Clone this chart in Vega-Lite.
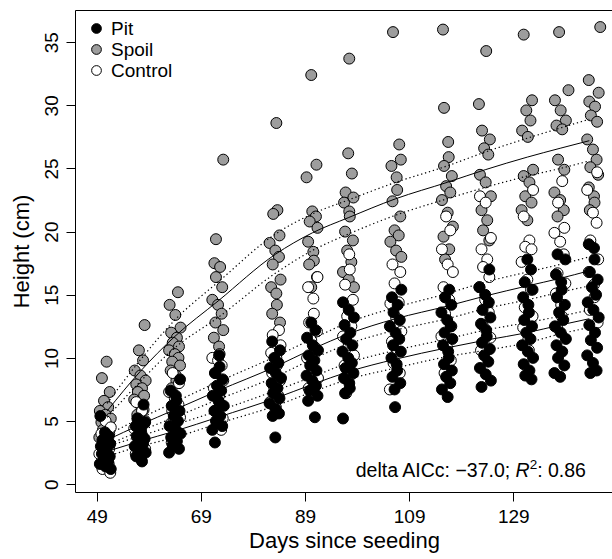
{
"$schema":"https://vega.github.io/schema/vega-lite/v6.json",
"width":538,"height":482,
"autosize":{"type":"none"},
"padding":{"left":75,"top":10,"right":0,"bottom":67},
"config":{
"view":{"stroke":"black","strokeWidth":1},
"font":"Liberation Sans",
"axis":{"grid":false,"domain":false,"tickColor":"black","tickSize":9,"tickWidth":1,"labelColor":"black","titleColor":"black","labelFont":"Liberation Sans","titleFont":"Liberation Sans","labelFontSize":19,"titleFontSize":22,"titleFontWeight":"normal"},
"legend":{"labelFont":"Liberation Sans","labelFontSize":19,"labelColor":"black","symbolStrokeColor":"black","symbolStrokeWidth":1,"symbolSize":95,"symbolType":"circle","rowPadding":1,"labelOffset":5,"padding":0}
},
"datasets":{
"spoil":[
{"day":50.9,"height":9.7},{"day":50.0,"height":8.4},{"day":51.5,"height":7.3},{"day":50.4,"height":6.6},{"day":51.2,"height":6.1},{"day":49.6,"height":5.8},{"day":50.7,"height":5.5},{"day":51.7,"height":5.2},{"day":49.9,"height":4.9},{"day":51.0,"height":4.6},{"day":50.2,"height":4.3},{"day":51.4,"height":4.0},{"day":49.5,"height":3.7},
{"day":58.2,"height":12.6},{"day":57.1,"height":10.6},{"day":57.9,"height":9.8},{"day":56.3,"height":9.0},{"day":57.4,"height":8.6},{"day":58.4,"height":8.2},{"day":56.6,"height":7.9},{"day":57.7,"height":7.6},{"day":56.9,"height":7.3},{"day":58.1,"height":7.0},{"day":56.2,"height":6.7},{"day":57.3,"height":6.3},{"day":58.0,"height":5.9},{"day":56.8,"height":5.5},{"day":58.3,"height":5.0},
{"day":64.6,"height":15.2},{"day":63.0,"height":14.2},{"day":64.1,"height":13.4},{"day":65.1,"height":12.4},{"day":63.3,"height":12.0},{"day":64.4,"height":11.6},{"day":63.6,"height":11.2},{"day":64.8,"height":10.9},{"day":62.9,"height":10.6},{"day":64.0,"height":10.3},{"day":64.7,"height":10.0},{"day":63.5,"height":9.7},{"day":65.0,"height":9.4},{"day":63.2,"height":9.0},{"day":64.2,"height":8.6},{"day":64.3,"height":8.2},{"day":63.4,"height":7.6},
{"day":73.3,"height":25.7},{"day":71.9,"height":19.4},{"day":71.6,"height":17.5},{"day":72.7,"height":17.2},{"day":71.9,"height":16.4},{"day":73.1,"height":15.6},{"day":71.2,"height":14.6},{"day":72.3,"height":14.2},{"day":73.0,"height":13.5},{"day":71.8,"height":12.8},{"day":73.3,"height":12.2},{"day":71.5,"height":11.6},{"day":72.5,"height":10.9},{"day":72.6,"height":10.3},
{"day":83.5,"height":28.6},{"day":83.7,"height":21.7},{"day":82.9,"height":21.4},{"day":84.1,"height":19.7},{"day":82.2,"height":19.1},{"day":83.3,"height":18.5},{"day":84.0,"height":18.0},{"day":82.8,"height":17.4},{"day":84.3,"height":16.2},{"day":82.5,"height":15.6},{"day":83.5,"height":15.1},{"day":83.6,"height":14.2},{"day":82.7,"height":13.5},{"day":84.2,"height":12.8},
{"day":90.2,"height":32.4},{"day":91.2,"height":25.3},{"day":89.3,"height":24.3},{"day":90.4,"height":21.6},{"day":91.1,"height":21.2},{"day":89.9,"height":20.8},{"day":91.4,"height":20.3},{"day":89.6,"height":19.2},{"day":90.6,"height":18.4},{"day":90.7,"height":17.7},{"day":89.8,"height":17.4},{"day":91.3,"height":16.4},{"day":90.2,"height":15.6},
{"day":97.5,"height":33.7},{"day":97.3,"height":26.2},{"day":98.0,"height":24.6},{"day":96.8,"height":23.1},{"day":98.3,"height":22.7},{"day":96.5,"height":22.3},{"day":97.5,"height":21.6},{"day":97.6,"height":21.2},{"day":96.7,"height":20.0},{"day":98.2,"height":19.3},{"day":97.1,"height":18.5},{"day":97.9,"height":17.6},{"day":96.3,"height":16.8},{"day":97.4,"height":16.2},{"day":98.4,"height":15.6},
{"day":105.9,"height":35.8},{"day":107.1,"height":26.9},{"day":107.4,"height":25.7},{"day":105.6,"height":25.2},{"day":106.6,"height":24.3},{"day":106.7,"height":23.3},{"day":105.8,"height":22.4},{"day":107.3,"height":21.2},{"day":106.2,"height":20.1},{"day":107.0,"height":19.7},{"day":105.4,"height":19.2},{"day":106.5,"height":18.5},{"day":107.5,"height":18.0},
{"day":115.5,"height":36.0},{"day":115.7,"height":29.8},{"day":116.5,"height":27.1},{"day":116.6,"height":25.9},{"day":115.7,"height":25.2},{"day":117.2,"height":24.4},{"day":116.1,"height":23.6},{"day":116.9,"height":23.1},{"day":115.3,"height":22.5},{"day":116.4,"height":21.5},{"day":117.4,"height":20.4},{"day":115.6,"height":19.6},{"day":116.7,"height":18.6},{"day":115.9,"height":17.8},
{"day":123.8,"height":34.3},{"day":122.4,"height":30.1},{"day":123.0,"height":28.0},{"day":124.5,"height":27.3},{"day":123.4,"height":26.6},{"day":124.2,"height":26.1},{"day":122.6,"height":24.5},{"day":123.7,"height":23.9},{"day":124.7,"height":22.8},{"day":122.9,"height":21.7},{"day":124.0,"height":20.9},{"day":123.2,"height":20.1},{"day":124.4,"height":19.3},
{"day":131.0,"height":35.6},{"day":132.6,"height":30.4},{"day":131.5,"height":29.6},{"day":132.3,"height":28.8},{"day":130.7,"height":28.0},{"day":131.8,"height":27.5},{"day":132.8,"height":24.9},{"day":131.0,"height":24.4},{"day":132.1,"height":23.9},{"day":131.3,"height":22.8},{"day":132.5,"height":22.3},{"day":130.6,"height":21.7},{"day":131.7,"height":20.9},
{"day":137.8,"height":35.8},{"day":139.6,"height":31.2},{"day":137.0,"height":30.4},{"day":138.1,"height":29.6},{"day":139.1,"height":28.8},{"day":137.3,"height":28.4},{"day":138.4,"height":28.1},{"day":137.6,"height":25.7},{"day":138.8,"height":24.9},{"day":136.9,"height":23.1},{"day":138.0,"height":22.5},{"day":138.7,"height":21.7},{"day":137.5,"height":21.2},
{"day":145.7,"height":36.2},{"day":143.5,"height":32.0},{"day":145.4,"height":31.0},{"day":143.6,"height":30.3},{"day":144.7,"height":29.9},{"day":143.9,"height":29.2},{"day":145.1,"height":28.7},{"day":143.2,"height":27.3},{"day":144.3,"height":26.5},{"day":145.0,"height":25.7},{"day":143.8,"height":25.1},{"day":145.3,"height":24.5},{"day":143.5,"height":23.5},{"day":144.5,"height":22.8},{"day":144.6,"height":22.3},{"day":143.7,"height":21.7}
],
"control":[
{"day":50.7,"height":5.0},{"day":51.7,"height":4.5},{"day":49.9,"height":4.0},{"day":51.0,"height":3.6},{"day":50.2,"height":3.2},{"day":51.4,"height":2.8},{"day":49.5,"height":2.4},{"day":50.6,"height":2.0},{"day":51.3,"height":1.6},{"day":50.1,"height":1.2},{"day":51.6,"height":0.9},
{"day":56.6,"height":6.5},{"day":57.7,"height":5.8},{"day":56.9,"height":5.2},{"day":58.1,"height":4.8},{"day":56.2,"height":4.4},{"day":57.3,"height":4.0},{"day":58.0,"height":3.6},{"day":56.8,"height":3.2},{"day":58.3,"height":2.8},{"day":56.5,"height":2.4},{"day":57.5,"height":2.0},
{"day":63.6,"height":8.8},{"day":64.8,"height":8.0},{"day":62.9,"height":7.3},{"day":64.0,"height":6.8},{"day":64.7,"height":6.3},{"day":63.5,"height":5.8},{"day":65.0,"height":5.3},{"day":63.2,"height":4.8},{"day":64.2,"height":4.3},{"day":64.3,"height":3.8},{"day":63.4,"height":3.3},
{"day":71.2,"height":10.0},{"day":72.3,"height":9.8},{"day":73.0,"height":9.4},{"day":71.8,"height":8.8},{"day":73.3,"height":8.2},{"day":71.5,"height":7.6},{"day":72.5,"height":7.0},{"day":72.6,"height":6.4},{"day":71.7,"height":5.8},{"day":73.2,"height":5.2},{"day":72.1,"height":4.9},{"day":72.9,"height":4.3},
{"day":84.0,"height":12.2},{"day":82.8,"height":11.8},{"day":84.3,"height":11.0},{"day":82.5,"height":10.4},{"day":83.5,"height":10.0},{"day":83.6,"height":9.4},{"day":82.7,"height":8.8},{"day":84.2,"height":8.2},{"day":83.1,"height":7.6},{"day":83.9,"height":7.0},{"day":82.3,"height":6.5},{"day":83.4,"height":6.1},
{"day":91.4,"height":16.4},{"day":89.6,"height":15.6},{"day":90.6,"height":14.7},{"day":90.7,"height":13.5},{"day":89.8,"height":12.8},{"day":91.3,"height":12.1},{"day":90.2,"height":11.4},{"day":91.0,"height":10.8},{"day":89.4,"height":10.0},{"day":90.5,"height":9.2},{"day":91.5,"height":8.4},{"day":89.7,"height":7.6},
{"day":97.5,"height":18.2},{"day":97.6,"height":17.0},{"day":96.7,"height":15.8},{"day":98.2,"height":14.6},{"day":97.1,"height":13.3},{"day":97.9,"height":12.5},{"day":96.3,"height":11.7},{"day":97.4,"height":11.0},{"day":98.4,"height":10.2},{"day":96.6,"height":9.4},{"day":97.7,"height":8.6},{"day":96.9,"height":7.2},
{"day":105.8,"height":17.4},{"day":107.3,"height":16.8},{"day":106.2,"height":15.9},{"day":107.0,"height":14.4},{"day":105.4,"height":14.3},{"day":106.5,"height":13.2},{"day":107.5,"height":12.1},{"day":105.7,"height":11.3},{"day":106.8,"height":10.5},{"day":106.0,"height":9.6},{"day":107.2,"height":8.8},{"day":105.3,"height":7.5},
{"day":116.1,"height":21.2},{"day":116.9,"height":20.1},{"day":115.3,"height":18.6},{"day":116.4,"height":17.4},{"day":117.4,"height":16.8},{"day":115.6,"height":15.6},{"day":116.7,"height":14.6},{"day":115.9,"height":13.5},{"day":117.1,"height":12.5},{"day":115.2,"height":11.7},{"day":116.3,"height":10.8},{"day":117.0,"height":9.8},{"day":115.8,"height":8.8},
{"day":122.6,"height":22.8},{"day":123.7,"height":22.3},{"day":124.7,"height":19.5},{"day":122.9,"height":18.6},{"day":124.0,"height":17.8},{"day":123.2,"height":17.2},{"day":124.4,"height":16.4},{"day":122.5,"height":15.6},{"day":123.6,"height":14.6},{"day":124.3,"height":13.6},{"day":123.1,"height":12.6},{"day":124.6,"height":11.6},{"day":122.8,"height":10.6},
{"day":132.8,"height":23.3},{"day":131.0,"height":21.2},{"day":132.1,"height":19.3},{"day":131.3,"height":18.8},{"day":132.5,"height":18.6},{"day":130.6,"height":17.6},{"day":131.7,"height":16.2},{"day":132.4,"height":15.4},{"day":131.2,"height":14.0},{"day":132.7,"height":13.3},{"day":130.9,"height":12.4},{"day":131.9,"height":11.5},{"day":132.0,"height":10.6},
{"day":138.4,"height":24.0},{"day":137.6,"height":22.3},{"day":138.8,"height":20.3},{"day":136.9,"height":19.9},{"day":138.0,"height":19.2},{"day":138.7,"height":18.2},{"day":137.5,"height":16.7},{"day":139.0,"height":15.9},{"day":137.2,"height":15.1},{"day":138.2,"height":14.2},{"day":138.3,"height":13.3},{"day":137.4,"height":12.4},
{"day":145.1,"height":24.7},{"day":143.2,"height":23.3},{"day":144.3,"height":21.5},{"day":145.0,"height":20.7},{"day":143.8,"height":19.3},{"day":145.3,"height":17.8},{"day":143.5,"height":16.8},{"day":144.5,"height":15.8},{"day":144.6,"height":14.8},{"day":143.7,"height":13.8},{"day":145.2,"height":12.8}
],
"pit":[
{"day":49.7,"height":5.4},{"day":50.6,"height":4.1},{"day":51.3,"height":3.8},{"day":50.1,"height":3.5},{"day":51.6,"height":3.2},{"day":49.8,"height":3.0},{"day":50.8,"height":2.8},{"day":50.9,"height":2.6},{"day":50.0,"height":2.4},{"day":51.5,"height":2.2},{"day":50.4,"height":2.0},{"day":51.2,"height":1.8},{"day":49.6,"height":1.6},{"day":50.7,"height":1.4},{"day":51.7,"height":1.2},
{"day":58.0,"height":6.3},{"day":56.8,"height":5.2},{"day":58.3,"height":4.9},{"day":56.5,"height":4.6},{"day":57.5,"height":4.3},{"day":57.6,"height":4.0},{"day":56.7,"height":3.8},{"day":58.2,"height":3.6},{"day":57.1,"height":3.4},{"day":57.9,"height":3.2},{"day":56.3,"height":3.0},{"day":57.4,"height":2.8},{"day":58.4,"height":2.5},{"day":56.6,"height":2.2},{"day":57.7,"height":1.8},
{"day":65.0,"height":8.3},{"day":63.2,"height":7.4},{"day":64.2,"height":7.0},{"day":64.3,"height":6.6},{"day":63.4,"height":6.2},{"day":64.9,"height":5.8},{"day":63.8,"height":5.4},{"day":64.6,"height":5.0},{"day":63.0,"height":4.6},{"day":64.1,"height":4.3},{"day":65.1,"height":4.0},{"day":63.3,"height":3.7},{"day":64.4,"height":3.4},{"day":63.6,"height":3.1},{"day":64.8,"height":2.8},{"day":62.9,"height":2.5},
{"day":72.5,"height":10.2},{"day":72.6,"height":9.3},{"day":71.7,"height":8.8},{"day":73.2,"height":8.3},{"day":72.1,"height":7.8},{"day":72.9,"height":7.4},{"day":71.3,"height":7.0},{"day":72.4,"height":6.6},{"day":73.4,"height":6.2},{"day":71.6,"height":5.8},{"day":72.7,"height":5.4},{"day":71.9,"height":5.0},{"day":73.1,"height":4.6},{"day":71.2,"height":4.3},{"day":71.7,"height":3.3},
{"day":82.7,"height":11.3},{"day":84.2,"height":10.6},{"day":83.1,"height":10.0},{"day":83.9,"height":9.6},{"day":82.3,"height":9.2},{"day":83.4,"height":8.8},{"day":84.4,"height":8.4},{"day":82.6,"height":8.0},{"day":83.7,"height":7.6},{"day":82.9,"height":7.2},{"day":84.1,"height":6.8},{"day":82.2,"height":6.4},{"day":83.3,"height":6.0},{"day":84.0,"height":5.6},{"day":82.8,"height":5.4},{"day":83.3,"height":3.7},
{"day":90.2,"height":12.8},{"day":91.0,"height":12.2},{"day":89.4,"height":11.6},{"day":90.5,"height":11.0},{"day":91.5,"height":10.6},{"day":89.7,"height":10.2},{"day":90.8,"height":9.8},{"day":90.0,"height":9.4},{"day":91.2,"height":9.0},{"day":89.3,"height":8.6},{"day":90.4,"height":8.2},{"day":91.1,"height":7.8},{"day":89.9,"height":7.4},{"day":91.4,"height":7.0},{"day":89.6,"height":6.6},{"day":90.9,"height":5.3},
{"day":96.3,"height":14.4},{"day":97.4,"height":13.8},{"day":98.4,"height":13.2},{"day":96.6,"height":12.6},{"day":97.7,"height":12.0},{"day":96.9,"height":11.5},{"day":98.1,"height":11.0},{"day":96.2,"height":10.5},{"day":97.3,"height":10.0},{"day":98.0,"height":9.6},{"day":96.8,"height":9.2},{"day":98.3,"height":8.8},{"day":96.5,"height":8.4},{"day":97.5,"height":8.0},{"day":97.6,"height":7.6},{"day":96.7,"height":7.2},{"day":96.3,"height":5.2},
{"day":107.5,"height":15.4},{"day":105.7,"height":14.8},{"day":106.8,"height":14.2},{"day":106.0,"height":13.6},{"day":107.2,"height":13.0},{"day":105.3,"height":12.5},{"day":106.4,"height":12.0},{"day":107.1,"height":11.5},{"day":105.9,"height":11.0},{"day":107.4,"height":10.5},{"day":105.6,"height":10.0},{"day":106.6,"height":9.5},{"day":106.7,"height":9.0},{"day":105.8,"height":8.5},{"day":107.3,"height":8.0},{"day":106.2,"height":7.5},{"day":106.3,"height":6.1},
{"day":116.7,"height":15.4},{"day":115.9,"height":14.8},{"day":117.1,"height":14.2},{"day":115.2,"height":13.6},{"day":116.3,"height":13.0},{"day":117.0,"height":12.5},{"day":115.8,"height":12.0},{"day":117.3,"height":11.5},{"day":115.5,"height":11.0},{"day":116.5,"height":10.5},{"day":116.6,"height":10.0},{"day":115.7,"height":9.5},{"day":117.2,"height":9.0},{"day":116.1,"height":8.5},{"day":116.9,"height":8.0},{"day":115.3,"height":7.5},{"day":116.4,"height":6.9},
{"day":124.4,"height":17.0},{"day":122.5,"height":15.6},{"day":123.6,"height":15.0},{"day":124.3,"height":14.4},{"day":123.1,"height":13.8},{"day":124.6,"height":13.2},{"day":122.8,"height":12.7},{"day":123.8,"height":12.2},{"day":123.9,"height":11.7},{"day":123.0,"height":11.2},{"day":124.5,"height":10.7},{"day":123.4,"height":10.2},{"day":124.2,"height":9.7},{"day":122.6,"height":9.2},{"day":123.7,"height":8.7},{"day":124.7,"height":8.2},{"day":122.9,"height":7.7},
{"day":131.7,"height":17.8},{"day":132.4,"height":17.0},{"day":131.2,"height":16.0},{"day":132.7,"height":15.4},{"day":130.9,"height":14.8},{"day":131.9,"height":14.2},{"day":132.0,"height":13.6},{"day":131.1,"height":13.0},{"day":132.6,"height":12.5},{"day":131.5,"height":12.0},{"day":132.3,"height":11.5},{"day":130.7,"height":11.0},{"day":131.8,"height":10.5},{"day":132.8,"height":10.0},{"day":131.0,"height":9.5},{"day":132.1,"height":9.0},{"day":131.3,"height":8.6},{"day":132.5,"height":8.3},
{"day":137.5,"height":18.2},{"day":139.0,"height":17.8},{"day":137.2,"height":16.6},{"day":138.2,"height":16.0},{"day":138.3,"height":15.4},{"day":137.4,"height":14.8},{"day":138.9,"height":14.2},{"day":137.8,"height":13.6},{"day":138.6,"height":13.0},{"day":137.0,"height":12.5},{"day":138.1,"height":12.0},{"day":139.1,"height":11.5},{"day":137.3,"height":11.0},{"day":138.4,"height":10.5},{"day":137.6,"height":10.0},{"day":138.8,"height":9.4},{"day":136.9,"height":8.8},{"day":138.0,"height":8.5},
{"day":143.5,"height":19.0},{"day":144.5,"height":18.7},{"day":144.6,"height":17.8},{"day":143.7,"height":16.8},{"day":145.2,"height":16.2},{"day":144.1,"height":15.6},{"day":144.9,"height":15.0},{"day":143.3,"height":14.4},{"day":144.4,"height":13.8},{"day":145.4,"height":13.2},{"day":143.6,"height":12.6},{"day":144.7,"height":12.0},{"day":143.9,"height":11.4},{"day":145.1,"height":10.8},{"day":143.2,"height":10.2},{"day":144.3,"height":9.6},{"day":145.0,"height":9.0},{"day":143.8,"height":8.8}
],
"fits":[
{"group":"Spoil","day":51.0,"fit":5.8,"lower":5.3,"upper":6.4},
{"group":"Spoil","day":57.3,"fit":8.9,"lower":8.1,"upper":9.8},
{"group":"Spoil","day":64.0,"fit":11.7,"lower":10.8,"upper":13.0},
{"group":"Spoil","day":72.3,"fit":14.5,"lower":13.2,"upper":16.0},
{"group":"Spoil","day":83.3,"fit":18.2,"lower":16.7,"upper":19.8},
{"group":"Spoil","day":90.4,"fit":19.9,"lower":18.5,"upper":21.4},
{"group":"Spoil","day":97.3,"fit":21.1,"lower":19.8,"upper":22.5},
{"group":"Spoil","day":106.4,"fit":22.6,"lower":21.3,"upper":23.9},
{"group":"Spoil","day":116.3,"fit":23.9,"lower":22.6,"upper":25.2},
{"group":"Spoil","day":123.6,"fit":24.9,"lower":23.5,"upper":26.3},
{"group":"Spoil","day":131.7,"fit":25.9,"lower":24.4,"upper":27.4},
{"group":"Spoil","day":138.0,"fit":26.6,"lower":25.0,"upper":28.2},
{"group":"Spoil","day":143.6,"fit":27.2,"lower":25.6,"upper":28.9},
{"group":"Control","day":51.0,"fit":3.5,"lower":3.1,"upper":3.9},
{"group":"Control","day":57.3,"fit":4.7,"lower":4.2,"upper":5.2},
{"group":"Control","day":64.0,"fit":5.9,"lower":5.3,"upper":6.5},
{"group":"Control","day":72.3,"fit":7.4,"lower":6.7,"upper":8.1},
{"group":"Control","day":83.3,"fit":9.3,"lower":8.5,"upper":10.1},
{"group":"Control","day":90.4,"fit":10.7,"lower":9.9,"upper":11.5},
{"group":"Control","day":97.3,"fit":11.9,"lower":11.1,"upper":12.8},
{"group":"Control","day":106.4,"fit":13.1,"lower":12.2,"upper":14.0},
{"group":"Control","day":116.3,"fit":14.1,"lower":13.1,"upper":15.1},
{"group":"Control","day":123.6,"fit":14.9,"lower":13.9,"upper":16.0},
{"group":"Control","day":131.7,"fit":15.7,"lower":14.6,"upper":16.8},
{"group":"Control","day":138.0,"fit":16.3,"lower":15.2,"upper":17.4},
{"group":"Control","day":143.6,"fit":16.9,"lower":15.7,"upper":18.0},
{"group":"Pit","day":51.0,"fit":2.6,"lower":2.2,"upper":3.0},
{"group":"Pit","day":57.3,"fit":3.4,"lower":3.0,"upper":3.8},
{"group":"Pit","day":64.0,"fit":4.2,"lower":3.7,"upper":4.7},
{"group":"Pit","day":72.3,"fit":5.3,"lower":4.8,"upper":5.8},
{"group":"Pit","day":83.3,"fit":6.8,"lower":6.2,"upper":7.4},
{"group":"Pit","day":90.4,"fit":7.9,"lower":7.3,"upper":8.5},
{"group":"Pit","day":97.3,"fit":8.9,"lower":8.3,"upper":9.6},
{"group":"Pit","day":106.4,"fit":9.9,"lower":9.2,"upper":10.6},
{"group":"Pit","day":116.3,"fit":10.8,"lower":10.1,"upper":11.5},
{"group":"Pit","day":123.6,"fit":11.4,"lower":10.6,"upper":12.2},
{"group":"Pit","day":131.7,"fit":12.0,"lower":11.2,"upper":12.8},
{"group":"Pit","day":138.0,"fit":12.6,"lower":11.9,"upper":13.3},
{"group":"Pit","day":143.6,"fit":13.1,"lower":12.4,"upper":13.8}
]
},
"layer":[
{"data":{"name":"spoil"},
 "mark":{"type":"point","shape":"circle","filled":true,"stroke":"black","strokeWidth":1,"size":120,"opacity":1},
 "encoding":{
  "x":{"field":"day","type":"quantitative","scale":{"domain":[44.83,148.15],"nice":false,"zero":false},"axis":{"values":[49,69,89,109,129],"title":"Days since seeding","labelPadding":6,"titlePadding":4}},
  "y":{"field":"height","type":"quantitative","scale":{"domain":[-0.62,37.55],"nice":false,"zero":false},"axis":{"values":[0,5,10,15,20,25,30,35],"title":"Height (cm)","labelAngle":-90,"labelAlign":"center","labelBaseline":"bottom","labelPadding":5,"titlePadding":9}},
  "fill":{"datum":"Spoil","type":"nominal","scale":{"domain":["Pit","Spoil","Control"],"range":["#000000","#9d9d9d","#ffffff"]},"legend":{"title":null,"orient":"none","legendX":12,"legendY":9}}
 }},
{"data":{"name":"control"},
 "mark":{"type":"point","shape":"circle","filled":true,"stroke":"black","strokeWidth":1,"size":120,"opacity":1},
 "encoding":{
  "x":{"field":"day","type":"quantitative"},
  "y":{"field":"height","type":"quantitative"},
  "fill":{"datum":"Control","type":"nominal"}
 }},
{"data":{"name":"pit"},
 "mark":{"type":"point","shape":"circle","filled":true,"stroke":"black","strokeWidth":1,"size":120,"opacity":1},
 "encoding":{
  "x":{"field":"day","type":"quantitative"},
  "y":{"field":"height","type":"quantitative"},
  "fill":{"datum":"Pit","type":"nominal"}
 }},
{"data":{"name":"fits"},
 "mark":{"type":"line","color":"black","strokeWidth":1,"interpolate":"monotone"},
 "encoding":{"x":{"field":"day","type":"quantitative"},"y":{"field":"fit","type":"quantitative"},"detail":{"field":"group"}}},
{"data":{"name":"fits"},
 "mark":{"type":"line","color":"black","strokeWidth":1.2,"strokeDash":[1.3,2.8],"interpolate":"monotone"},
 "encoding":{"x":{"field":"day","type":"quantitative"},"y":{"field":"lower","type":"quantitative"},"detail":{"field":"group"}}},
{"data":{"name":"fits"},
 "mark":{"type":"line","color":"black","strokeWidth":1.2,"strokeDash":[1.3,2.8],"interpolate":"monotone"},
 "encoding":{"x":{"field":"day","type":"quantitative"},"y":{"field":"upper","type":"quantitative"},"detail":{"field":"group"}}},
{"data":{"values":[{}]},
 "mark":{"type":"text","text":"delta AICc: −37.0;","align":"right","baseline":"alphabetic","dx":-75.8,"fontSize":19.5,"font":"Liberation Sans","color":"black"},
 "encoding":{"x":{"datum":142.96,"type":"quantitative"},"y":{"datum":0.59,"type":"quantitative"}}},
{"data":{"values":[{}]},
 "mark":{"type":"text","text":"R","align":"right","baseline":"alphabetic","dx":-56.3,"fontSize":19.5,"fontStyle":"italic","font":"Liberation Sans","color":"black"},
 "encoding":{"x":{"datum":142.96,"type":"quantitative"},"y":{"datum":0.59,"type":"quantitative"}}},
{"data":{"values":[{}]},
 "mark":{"type":"text","text":"2","align":"right","baseline":"alphabetic","dx":-48.8,"dy":-8,"fontSize":13.5,"font":"Liberation Sans","color":"black"},
 "encoding":{"x":{"datum":142.96,"type":"quantitative"},"y":{"datum":0.59,"type":"quantitative"}}},
{"data":{"values":[{}]},
 "mark":{"type":"text","text":": 0.86","align":"right","baseline":"alphabetic","dx":0,"fontSize":19.5,"font":"Liberation Sans","color":"black"},
 "encoding":{"x":{"datum":142.96,"type":"quantitative"},"y":{"datum":0.59,"type":"quantitative"}}}
]
}
